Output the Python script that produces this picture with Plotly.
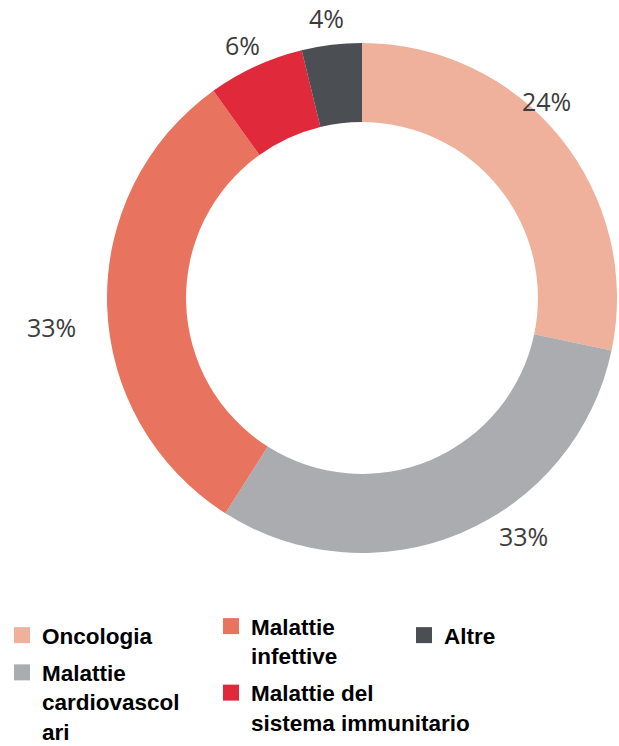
import math
import plotly.graph_objects as go

# ---- data ----
categories = ["Oncologia", "Malattie cardiovascolari", "Malattie infettive",
              "Malattie del sistema immunitario", "Altre"]
# printed percentage labels
printed_percent = [24, 33, 33, 6, 4]
# shares as actually drawn by the arcs in the reference (measured from the slice boundaries)
slice_shares = [28.3, 30.7, 31.1, 6.1, 3.8]
legend_labels = ["Oncologia", "Malattie<br>cardiovascol<br>ari", "Malattie<br>infettive",
                 "Malattie del<br>sistema immunitario", "Altre"]

# ---- style ----
colors = ["#EFB19C", "#AAACAF", "#E8735F", "#E02A3C", "#4B4E52"]
legend_columns = ["legend", "legend", "legend2", "legend2", "legend3"]
label_distance = [270, 288, 312, 280, 282]   # px from centre, per label

W, H = 619, 746
dom_x = [107 / W, 617 / W]
dom_y = [(H - 553) / H, (H - 43) / H]

fig = go.Figure()
fig.add_trace(go.Pie(
    labels=categories, values=slice_shares, sort=False, direction="clockwise", rotation=0,
    hole=0.69, marker=dict(colors=colors, line=dict(width=0)),
    textinfo="none", showlegend=False, hoverinfo="label",
    domain=dict(x=dom_x, y=dom_y),
))

# percentage labels, placed at the mid-angle of the printed shares
cx = (dom_x[0] + dom_x[1]) / 2 * W
cy = (1 - (dom_y[0] + dom_y[1]) / 2) * H
total = sum(printed_percent)
cum = 0
for p, d in zip(printed_percent, label_distance):
    mid = (cum + p / 2) / total * 2 * math.pi
    cum += p
    px = cx + d * math.sin(mid)
    py = cy - d * math.cos(mid)
    fig.add_annotation(
        x=px / W, y=1 - py / H, xref="paper", yref="paper",
        text=f"{p}%", showarrow=False, xanchor="center", yanchor="middle",
        font=dict(family="Open Sans", size=25, color="#3C3C3C"),
    )

for name, lab, col, lg in zip(categories, legend_labels, colors, legend_columns):
    fig.add_trace(go.Scatter(
        x=[None], y=[None], mode="markers", name=f"<b>{lab}</b>", legend=lg,
        legendgroup=name,
        marker=dict(symbol="square", size=16, color=col),
    ))

legend_font = dict(family="Arial", size=22.5, color="#000000")
common = dict(font=legend_font, valign="top", bgcolor="rgba(0,0,0,0)",
              xanchor="left", yanchor="top", tracegroupgap=5,
              itemclick=False, itemdoubleclick=False)
fig.update_layout(
    width=W, height=H,
    margin=dict(l=0, r=0, t=0, b=0, autoexpand=False),
    paper_bgcolor="white", plot_bgcolor="white",
    xaxis=dict(visible=False), yaxis=dict(visible=False),
    legend=dict(x=2 / W, y=1 - 614 / H, **common),
    legend2=dict(x=211 / W, y=1 - 605 / H, **common),
    legend3=dict(x=404 / W, y=1 - 614 / H, **common),
)

fig.write_html("out.html", config={"displayModeBar": False},
               post_script="document.body.style.margin='0px';")
